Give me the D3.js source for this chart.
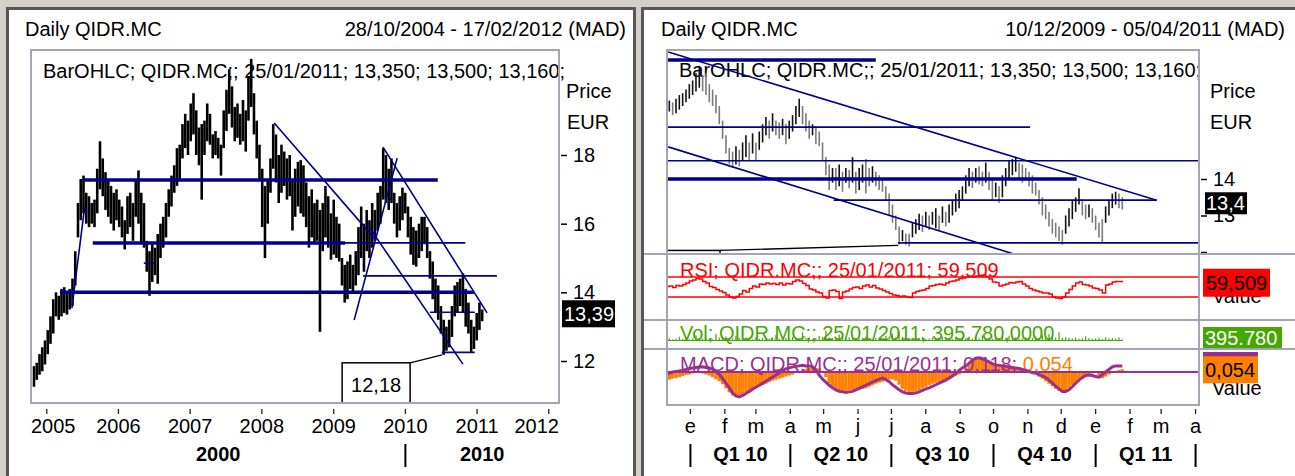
<!DOCTYPE html>
<html>
<head>
<meta charset="utf-8">
<script src="https://cdn.jsdelivr.net/npm/d3@7/dist/d3.min.js"></script>
<style>
  body { margin: 0; background: #d4d0c8; }
  text { font-family: "Liberation Sans", Arial, sans-serif; font-size: 20px; }
</style>
</head>
<body>
<svg id="chart" width="1295" height="476"></svg>
<script>
// ---------------- data ----------------
const leftStart = "2004-10-28", leftStepDays = 14;
const leftHigh = [11.85,11.95,12.2,12.4,12.6,12.9,13.3,13.8,14.0,13.9,
  14.1,14.15,14.0,14.1,14.4,15.2,16.6,17.3,17.4,16.9,
  16.8,16.6,16.7,17.6,18.4,17.9,17.5,17.3,17.1,16.9,
  17.0,16.7,16.5,16.1,16.8,16.9,16.6,17.3,17.55,16.9,
  16.6,15.5,15.2,15.4,15.3,15.7,16.0,16.2,16.6,17.0,
  17.4,17.7,18.2,18.3,18.9,19.2,19.0,19.5,19.8,19.3,
  18.8,18.9,19.0,19.5,19.2,18.6,18.7,18.5,18.3,19.3,
  19.9,20.5,20.0,19.4,19.5,19.2,19.6,19.3,20.3,20.8,
  19.8,19.0,18.3,17.6,17.1,17.3,17.9,18.9,18.6,18.0,
  18.3,18.1,17.9,18.0,17.3,17.6,17.8,17.85,17.7,17.2,
  16.8,17.0,16.6,16.7,16.4,16.6,17.1,16.8,16.3,16.7,
  16.2,16.0,15.0,14.8,14.9,15.1,14.8,15.2,15.9,16.5,
  16.0,16.4,16.1,16.6,16.4,16.9,17.1,18.2,18.0,17.6,
  17.9,16.9,16.6,16.8,17.05,16.9,16.5,16.2,15.9,15.8,
  16.0,16.2,16.2,15.9,15.2,14.9,14.4,14.2,13.6,13.2,
  13.0,13.2,13.6,14.2,14.3,14.4,14.55,14.1,13.7,13.2,
  13.0,13.4,13.7,13.5];
const leftLow = [11.25,11.45,11.6,11.7,11.9,12.2,12.5,12.8,13.3,13.2,
  13.3,13.4,13.35,13.5,13.6,14.2,15.6,16.1,16.3,16.0,
  15.9,16.0,15.9,16.3,17.0,16.8,16.4,16.2,16.0,15.8,
  16.1,15.9,15.6,15.25,15.7,15.9,15.5,16.2,16.0,15.4,
  15.3,14.6,13.9,14.3,14.5,14.25,15.0,15.3,15.6,16.2,
  16.5,16.9,17.1,17.3,17.9,18.2,18.0,18.4,18.6,18.0,
  17.7,16.7,18.0,18.4,18.3,17.9,18.0,17.9,17.4,18.2,
  18.7,19.2,18.8,18.4,18.5,18.3,18.4,18.1,19.0,19.4,
  18.6,17.9,17.3,15.9,15.0,16.0,16.9,17.6,17.2,16.6,
  16.9,17.1,16.7,16.8,15.8,16.2,16.5,16.3,16.2,15.9,
  15.3,15.6,15.4,15.5,12.85,15.2,15.6,15.3,14.95,15.1,
  15.0,14.9,14.2,13.7,13.8,14.1,13.98,14.2,14.5,15.0,
  14.6,15.2,15.0,15.3,15.5,15.8,16.0,16.7,16.6,16.4,
  16.6,16.0,15.6,15.8,16.1,16.3,15.6,15.1,14.8,14.75,
  15.0,15.2,15.4,15.0,14.4,13.8,13.4,13.2,12.8,12.18,
  12.3,12.4,12.7,13.3,13.4,13.6,13.4,13.0,12.8,12.25,
  12.35,12.6,12.9,13.16];

const rightStart = "2009-12-10", rightStepDays = 3;
const rightHigh = [16.2,16.15,16.1,16.2,16.3,16.35,16.45,16.6,16.7,16.9,
  17.1,16.85,16.9,16.6,16.45,16.3,16.0,15.6,15.2,14.85,
  14.75,14.9,14.8,15.0,15.2,15.0,15.25,15.0,15.3,15.5,
  15.7,15.6,15.8,15.6,15.55,15.65,15.5,15.6,15.75,16.0,
  16.2,16.0,15.8,15.6,15.5,15.45,15.3,15.0,14.6,14.4,
  14.3,14.3,14.4,14.2,14.3,14.25,14.6,14.2,14.3,14.4,
  14.55,14.3,14.35,14.2,14.1,14.0,13.8,13.6,13.3,13.0,
  12.7,12.6,12.5,12.5,12.8,12.9,13.05,13.0,13.1,13.0,
  13.1,13.2,13.0,13.25,13.1,13.3,13.4,13.6,13.7,13.8,
  14.1,14.3,14.2,14.3,14.35,14.2,14.45,14.2,14.0,13.9,
  13.8,14.1,14.3,14.5,14.55,14.6,14.45,14.4,14.3,14.2,
  14.1,13.9,13.7,13.5,13.3,13.1,12.9,12.8,12.7,12.6,
  13.0,13.2,13.4,13.5,13.75,13.45,13.3,13.3,13.2,13.0,
  12.8,12.9,13.25,13.4,13.6,13.65,13.6,13.5];
const rightLow = [15.8,15.85,15.75,15.8,15.9,16.0,16.1,16.2,16.3,16.4,
  16.5,16.4,16.3,16.1,16.0,15.8,15.5,15.1,14.7,14.4,
  14.3,14.4,14.35,14.5,14.6,14.5,14.7,14.5,14.8,15.0,
  15.2,15.1,15.3,15.2,15.1,15.2,14.95,15.1,15.3,15.5,
  15.7,15.5,15.3,15.1,15.2,14.95,14.9,14.5,14.1,13.7,
  13.9,13.7,13.8,13.65,13.9,13.75,13.9,13.6,13.7,13.9,
  13.6,13.8,13.9,13.8,13.7,13.65,13.4,13.0,12.8,12.6,
  12.2,12.3,12.2,12.15,12.4,12.5,12.6,12.55,12.7,12.6,
  12.75,12.65,12.6,12.8,12.7,12.8,13.0,13.1,13.2,13.4,
  13.6,13.8,13.75,13.9,13.85,13.8,13.9,13.7,13.4,13.5,
  13.35,13.5,13.8,14.0,14.1,14.2,14.0,13.9,13.95,13.8,
  13.6,13.55,13.3,13.0,12.9,12.7,12.5,12.4,12.3,12.2,
  12.5,12.7,12.9,13.1,13.3,13.0,12.9,12.95,12.8,12.6,
  12.4,12.27,12.8,13.0,13.2,13.3,13.2,13.16];

const rsiValues = [51,52,49,53,52,55,58,62,64,67,
  66,61,58,51,49,45,42,39,34,30,
  28,31,36,43,40,47,52,50,56,55,
  58,56,57,55,58,54,57,56,61,64,
  62,57,53,46,44,40,38,31,28,43,
  44,41,27,40,42,46,49,50,47,52,
  54,50,53,48,46,43,40,37,34,33,
  31,32,30,29,38,41,43,44,47,52,
  53,55,56,54,58,61,62,64,67,68,
  70,71,70,72,73,74,71,66,60,59,
  52,54,56,59,58,60,61,56,52,47,
  44,42,40,38,38,36,30,28,27,30,
  38,45,52,58,60,55,54,52,48,47,
  44,38,54,56,60,61,61,59.509];
const rsiLevels = [30, 70];

const volValues = [420,610,380,520,900,450,700,380,560,1200,
  640,480,820,510,390,1500,720,600,980,450,
  530,1100,680,420,760,590,350,820,460,640,
  380,510,720,1300,480,560,690,410,860,530,
  470,1900,620,740,390,580,1050,880,2200,760,
  640,520,1400,690,450,830,560,720,480,610,
  900,540,430,680,760,510,1100,980,1600,740,
  2100,860,690,540,720,480,610,850,430,560,
  690,470,580,820,510,640,390,720,560,880,
  610,940,480,700,530,1200,620,760,450,840,
  590,680,520,1100,610,740,470,560,830,640,
  720,980,560,1300,690,1500,860,740,1900,620,
  820,690,540,710,460,580,1000,620,480,560,
  700,450,830,560,640,520,780,396];

const macdValues = [-0.04,-0.02,0.00,0.01,0.02,0.03,0.05,0.07,0.08,0.09,
  0.10,0.10,0.09,0.08,0.05,0.01,-0.05,-0.13,-0.22,-0.31,
  -0.41,-0.47,-0.49,-0.46,-0.42,-0.38,-0.34,-0.30,-0.26,-0.22,
  -0.18,-0.14,-0.10,-0.06,-0.02,0.03,0.06,0.08,0.10,0.11,
  0.12,0.13,0.12,0.12,0.10,0.04,-0.06,-0.14,-0.20,-0.26,
  -0.31,-0.35,-0.38,-0.39,-0.40,-0.39,-0.38,-0.35,-0.32,-0.29,
  -0.26,-0.23,-0.20,-0.17,-0.14,-0.12,-0.15,-0.19,-0.25,-0.30,
  -0.35,-0.39,-0.41,-0.42,-0.42,-0.41,-0.39,-0.36,-0.33,-0.31,
  -0.28,-0.25,-0.22,-0.19,-0.16,-0.12,-0.08,-0.03,0.03,0.08,
  0.12,0.17,0.23,0.27,0.28,0.26,0.23,0.20,0.16,0.14,
  0.13,0.12,0.11,0.10,0.09,0.08,0.07,0.05,0.03,0.01,
  -0.01,-0.02,-0.05,-0.08,-0.11,-0.16,-0.22,-0.28,-0.33,-0.38,
  -0.38,-0.35,-0.29,-0.22,-0.16,-0.11,-0.07,-0.06,-0.07,-0.09,
  -0.10,-0.05,0.00,0.05,0.10,0.12,0.12,0.118];
const signalValues = [-0.17,-0.15,-0.13,-0.12,-0.10,-0.08,-0.06,-0.05,-0.03,-0.02,
  -0.02,-0.03,-0.05,-0.07,-0.10,-0.14,-0.18,-0.24,-0.32,-0.40,
  -0.46,-0.49,-0.48,-0.44,-0.40,-0.37,-0.34,-0.31,-0.28,-0.26,
  -0.23,-0.20,-0.17,-0.15,-0.13,-0.11,-0.09,-0.07,-0.05,-0.02,
  0.01,0.04,0.06,0.08,0.08,0.08,0.07,0.02,-0.10,-0.22,
  -0.29,-0.34,-0.38,-0.39,-0.37,-0.36,-0.35,-0.35,-0.35,-0.33,
  -0.32,-0.29,-0.26,-0.23,-0.21,-0.19,-0.16,-0.15,-0.14,-0.17,
  -0.25,-0.33,-0.37,-0.39,-0.39,-0.38,-0.36,-0.32,-0.29,-0.26,
  -0.23,-0.21,-0.19,-0.17,-0.14,-0.12,-0.10,-0.07,-0.05,-0.02,
  0.06,0.14,0.24,0.28,0.29,0.26,0.22,0.19,0.16,0.14,
  0.13,0.11,0.10,0.09,0.07,0.06,0.05,0.04,0.02,0.00,
  -0.03,-0.05,-0.09,-0.13,-0.18,-0.23,-0.28,-0.33,-0.37,-0.39,
  -0.36,-0.32,-0.26,-0.20,-0.15,-0.10,-0.07,-0.05,-0.03,-0.02,
  -0.06,-0.12,-0.09,-0.05,-0.02,0.02,0.04,0.054];

// drawn lines, in (date, price)
const leftThickLines = [
  {from: "2005-07-03", p1: 17.27, to: "2010-06-15", p2: 17.27},
  {from: "2005-08-23", p1: 15.44, to: "2009-02-28", p2: 15.44},
  {from: "2005-03-09", p1: 14.0, to: "2010-12-15", p2: 14.0}
];
const leftThinLines = [
  {from: "2009-01-01", p1: 15.44, to: "2010-11-02", p2: 15.44},
  {from: "2009-05-30", p1: 14.48, to: "2011-04-12", p2: 14.48},
  {from: "2010-05-06", p1: 13.42, to: "2010-12-20", p2: 13.42},
  {from: "2010-07-05", p1: 12.25, to: "2010-12-20", p2: 12.25},
  {from: "2006-05-10", p1: 14.85, to: "2006-07-01", p2: 14.85},
  {from: "2005-05-09", p1: 13.54, to: "2005-07-13", p2: 16.49},
  {from: "2008-03-04", p1: 18.93, to: "2009-08-04", p2: 15.52},
  {from: "2009-07-04", p1: 15.87, to: "2010-10-21", p2: 11.91},
  {from: "2009-04-15", p1: 13.19, to: "2009-11-20", p2: 17.91},
  {from: "2009-09-09", p1: 18.23, to: "2011-02-21", p2: 13.40}
];
const rightThickLines = [
  {from: "2009-06-01", p1: 17.26, to: "2010-06-17", p2: 17.26},
  {from: "2009-06-01", p1: 14.0, to: "2010-12-15", p2: 14.0}
];
const rightThinLines = [
  {from: "2009-06-01", p1: 15.42, to: "2010-11-03", p2: 15.42},
  {from: "2009-06-01", p1: 14.5, to: "2011-06-01", p2: 14.5},
  {from: "2010-05-10", p1: 13.42, to: "2011-02-25", p2: 13.42},
  {from: "2010-07-07", p1: 12.25, to: "2011-06-01", p2: 12.25},
  {from: "2009-12-12", p1: 17.48, to: "2011-02-25", p2: 13.42},
  {from: "2009-12-12", p1: 14.88, to: "2010-10-22", p2: 11.92}
];
const lowMark = {date: "2010-07-07", price: 12.18, label: "12,18"};
const lastPrice = 13.39;

const yearTicks = [2005, 2006, 2007, 2008, 2009, 2010, 2011, 2012];
const decadeLabels = ["2000", "2010"];
const leftPriceTicks = [12, 14, 16, 18];
const rightPriceTicks = [12, 13, 14];
const monthLetters = ["e","f","m","a","m","j","j","a","s","o","n","d","e","f","m","a"];
const quarterLabels = ["Q1 10", "Q2 10", "Q3 10", "Q4 10", "Q1 11"];

// ---------------- setup ----------------
const parse = d3.timeParse("%Y-%m-%d");
const svg = d3.select("#chart");
const blue = "#00008c", frameCol = "#a4a4b6";

const xL = d3.scaleTime().domain([parse("2004-10-28"), parse("2012-02-17")]).range([34, 558]);
const yL = d3.scaleLinear().domain([12, 18]).range([361, 155]);
const xR = d3.scaleTime().domain([parse("2009-12-10"), parse("2011-04-05")]).range([666, 1200]);
const yR = d3.scaleLinear().domain([12, 14]).range([252, 179]);
const yRsi = d3.scaleLinear().domain([30, 70]).range([297, 277]);
const yVol = d3.scaleLinear().domain([0, 3000]).range([341, 327]);
const yMacd = d3.scaleLinear().domain([-0.5, 0]).range([397.5, 372]);

const leftBars = leftHigh.map((h, i) => ({date: d3.timeDay.offset(parse(leftStart), i * leftStepDays), hi: h, lo: leftLow[i]}));
const rightBars = rightHigh.map((h, i) => ({date: d3.timeDay.offset(parse(rightStart), i * rightStepDays), hi: h, lo: rightLow[i],
  rsi: rsiValues[i], vol: volValues[i], macd: macdValues[i], sig: signalValues[i]}));

const defs = svg.append("defs");
const clip = (id, x, y, w, h) => defs.append("clipPath").attr("id", id).append("rect").attr("x", x).attr("y", y).attr("width", w).attr("height", h);
clip("cL", 32, 51, 526, 351);
clip("cP", 668, 51, 530, 202);
clip("cPlab", 1199, 50, 96, 204);
clip("cRsi", 668, 255, 530, 64);
clip("cVol", 668, 321, 530, 27);
clip("cMacd", 668, 350, 530, 54);

// background and panel frames
svg.append("rect").attr("width", 1295).attr("height", 476).attr("fill", "#d4d0c8");
svg.append("rect").attr("x", 7.5).attr("y", 8.5).attr("width", 627).attr("height", 480)
  .attr("fill", "#fff").attr("stroke", "#575757").attr("stroke-width", 3);
svg.append("rect").attr("x", 642.5).attr("y", 8.5).attr("width", 680).attr("height", 480)
  .attr("fill", "#fff").attr("stroke", "#575757").attr("stroke-width", 3);

function trend(g, data, x, y, width) {
  g.selectAll(null).data(data).join("line")
    .attr("x1", d => x(parse(d.from))).attr("y1", d => y(d.p1))
    .attr("x2", d => x(parse(d.to))).attr("y2", d => y(d.p2))
    .attr("stroke", blue).attr("stroke-width", width);
}

// ================= LEFT CHART =================
const L = svg.append("g");
L.append("text").attr("x", 25).attr("y", 36).text("Daily QIDR.MC");
L.append("text").attr("x", 626).attr("y", 36).attr("text-anchor", "end").text("28/10/2004 - 17/02/2012 (MAD)");
L.append("text").attr("x", 43).attr("y", 78).text("BarOHLC; QIDR.MC;; 25/01/2011; 13,350; 13,500; 13,160;");
L.append("text").attr("x", 566).attr("y", 98).text("Price");
L.append("text").attr("x", 567).attr("y", 129).text("EUR");

const Lp = L.append("g").attr("clip-path", "url(#cL)");
Lp.selectAll(null).data(leftBars).join("line")
  .attr("x1", d => xL(d.date)).attr("x2", d => xL(d.date))
  .attr("y1", d => yL(d.hi)).attr("y2", d => yL(d.lo))
  .attr("stroke", "#000").attr("stroke-width", 2.6);
trend(Lp, leftThickLines, xL, yL, 3.5);
trend(Lp, leftThinLines, xL, yL, 1.6);

// low annotation
const ax = xL(parse(lowMark.date)), ay = yL(lowMark.price);
Lp.append("line").attr("x1", ax - 32).attr("y1", ay + 8).attr("x2", ax).attr("y2", ay).attr("stroke", "#000").attr("stroke-width", 1.3);
Lp.append("rect").attr("x", ax - 100).attr("y", ay + 8).attr("width", 68).attr("height", 50)
  .attr("fill", "#fff").attr("stroke", "#000").attr("stroke-width", 1.5);
Lp.append("text").attr("x", ax - 66).attr("y", ay + 37).attr("text-anchor", "middle").text(lowMark.label);

L.append("rect").attr("x", 31).attr("y", 50).attr("width", 528).attr("height", 353)
  .attr("fill", "none").attr("stroke", frameCol).attr("stroke-width", 2);

const axL = L.append("g").attr("transform", "translate(561,0)")
  .call(d3.axisRight(yL).tickValues(leftPriceTicks).tickSize(6).tickPadding(6).tickFormat(d3.format("d")));
axL.select(".domain").remove();
axL.attr("font-size", 20).attr("font-family", "Liberation Sans, Arial, sans-serif");
axL.selectAll("line").attr("stroke", "#000").attr("stroke-width", 1.5);
axL.selectAll("text").attr("fill", "#000");

// last price label
const lpY = yL(lastPrice);
L.append("rect").attr("x", 562).attr("y", lpY - 13).attr("width", 53).attr("height", 27).attr("fill", "#000");
L.append("text").attr("x", 564).attr("y", lpY + 8).attr("fill", "#fff").text("13,39");

// year axis
L.selectAll(null).data(yearTicks).join("line")
  .attr("x1", d => xL(new Date(d, 0, 1))).attr("x2", d => xL(new Date(d, 0, 1)))
  .attr("y1", 409).attr("y2", 414).attr("stroke", "#222").attr("stroke-width", 1.3);
L.selectAll(null).data(yearTicks).join("text")
  .attr("text-anchor", "middle").attr("y", 433).text(d => d)
  .each(function(d) {
    const w = this.getComputedTextLength();
    const cx = Math.max(31 + w / 2, Math.min(559 - w / 2, xL(new Date(d, 0, 1))));
    d3.select(this).attr("x", cx);
  });
const decEdges = [31, xL(new Date(2010, 0, 1)), 559];
L.selectAll(null).data(decadeLabels).join("text")
  .attr("x", (d, i) => (decEdges[i] + decEdges[i + 1]) / 2).attr("y", 461)
  .attr("text-anchor", "middle").attr("font-weight", "bold").text(d => d);
L.append("line").attr("x1", decEdges[1]).attr("x2", decEdges[1]).attr("y1", 444).attr("y2", 467)
  .attr("stroke", "#000").attr("stroke-width", 2);

// ================= RIGHT CHART =================
const R = svg.append("g");
R.append("text").attr("x", 661).attr("y", 36).text("Daily QIDR.MC");
R.append("text").attr("x", 1285).attr("y", 36).attr("text-anchor", "end").text("10/12/2009 - 05/04/2011 (MAD)");
R.append("text").attr("x", 1210).attr("y", 98).text("Price");
R.append("text").attr("x", 1210).attr("y", 129).text("EUR");

// price pane
const Rp = R.append("g").attr("clip-path", "url(#cP)");
Rp.append("text").attr("x", 679).attr("y", 77).text("BarOHLC; QIDR.MC;; 25/01/2011; 13,350; 13,500; 13,160;");
Rp.selectAll(null).data(rightBars).join("line")
  .attr("x1", d => xR(d.date)).attr("x2", d => xR(d.date))
  .attr("y1", d => yR(d.hi)).attr("y2", d => yR(d.lo))
  .attr("stroke", (d, i) => i > 0 && (d.hi + d.lo) < (rightBars[i - 1].hi + rightBars[i - 1].lo) ? "#7a7a7a" : "#111")
  .attr("stroke-width", 1.6);
trend(Rp, rightThickLines, xR, yR, 3.5);
trend(Rp, rightThinLines, xR, yR, 1.6);
const bx = xR(parse(lowMark.date)), by = yR(lowMark.price);
Rp.append("line").attr("x1", bx - 178).attr("y1", by + 5).attr("x2", bx).attr("y2", by).attr("stroke", "#000").attr("stroke-width", 1.3);
Rp.append("rect").attr("x", bx - 246).attr("y", by + 5).attr("width", 68).attr("height", 50)
  .attr("fill", "#fff").attr("stroke", "#000").attr("stroke-width", 1.5);

const axR = R.append("g").attr("clip-path", "url(#cPlab)").append("g").attr("transform", "translate(1201,0)")
  .call(d3.axisRight(yR).tickValues(rightPriceTicks).tickSize(6).tickPadding(6).tickFormat(d3.format("d")));
axR.select(".domain").remove();
axR.attr("font-size", 20).attr("font-family", "Liberation Sans, Arial, sans-serif");
axR.selectAll("line").attr("stroke", "#000").attr("stroke-width", 1.5);
// labels that do not fit above the pane bottom are not shown
axR.selectAll("text").attr("fill", "#000").attr("display", d => yR(d) + 8 > 254 ? "none" : null);
const rpY = yR(lastPrice) + 2;
R.append("rect").attr("x", 1205).attr("y", rpY - 11).attr("width", 42).attr("height", 22).attr("fill", "#000");
R.append("text").attr("x", 1206).attr("y", rpY + 7).attr("fill", "#fff").text("13,4");

// RSI pane
const Rr = R.append("g").attr("clip-path", "url(#cRsi)");
Rr.selectAll(null).data(rsiLevels).join("line")
  .attr("x1", 668).attr("x2", 1199).attr("y1", d => yRsi(d)).attr("y2", d => yRsi(d))
  .attr("stroke", "#ff0000").attr("stroke-width", 1.5);
Rr.append("text").attr("x", 680).attr("y", 277).attr("fill", "#ff0000").text("RSI; QIDR.MC;; 25/01/2011; 59,509");
Rr.append("path").datum(rightBars)
  .attr("d", d3.line().x(d => xR(d.date)).y(d => yRsi(d.rsi)).curve(d3.curveStepAfter))
  .attr("fill", "none").attr("stroke", "#ff0000").attr("stroke-width", 1.5);
R.append("text").attr("x", 1212).attr("y", 303).text("Value");
const rsiLast = yRsi(rsiValues[rsiValues.length - 1]);
R.append("rect").attr("x", 1203).attr("y", rsiLast - 13.5).attr("width", 67).attr("height", 28).attr("fill", "#ff0000");
R.append("text").attr("x", 1206).attr("y", rsiLast + 8).attr("fill", "#000").text("59,509");

// Volume pane
const Rv = R.append("g").attr("clip-path", "url(#cVol)");
Rv.append("text").attr("x", 680).attr("y", 340).attr("fill", "#44a800").text("Vol; QIDR.MC;; 25/01/2011; 395.780,0000");
Rv.append("line").attr("x1", 668).attr("x2", xR(rightBars[rightBars.length - 1].date)).attr("y1", 340.5).attr("y2", 340.5)
  .attr("stroke", "#44a800").attr("stroke-width", 1.2);
Rv.selectAll(null).data(rightBars).join("line")
  .attr("x1", d => xR(d.date)).attr("x2", d => xR(d.date))
  .attr("y1", yVol(0)).attr("y2", d => yVol(d.vol))
  .attr("stroke", "#44a800").attr("stroke-width", 1.2);
R.append("rect").attr("x", 1203).attr("y", 327).attr("width", 79).attr("height", 22).attr("fill", "#44a800");
R.append("text").attr("x", 1205).attr("y", 345).attr("fill", "#fff").text("395.780");

// MACD pane
const Rm = R.append("g").attr("clip-path", "url(#cMacd)");
Rm.selectAll(null).data(rightBars).join("rect")
  .attr("x", d => xR(d.date) - 1.7).attr("width", 3.4)
  .attr("y", d => Math.min(yMacd(0), yMacd(d.sig))).attr("height", d => Math.abs(yMacd(d.sig) - yMacd(0)))
  .attr("fill", "#ff8000");
Rm.append("line").attr("x1", 668).attr("x2", 1199).attr("y1", yMacd(0)).attr("y2", yMacd(0))
  .attr("stroke", "#9b2f8f").attr("stroke-width", 2);
const mt = Rm.append("text").attr("x", 680).attr("y", 371).attr("fill", "#9b2f8f");
mt.append("tspan").text("MACD; QIDR.MC;; 25/01/2011; 0,118; ");
mt.append("tspan").attr("fill", "#ff8000").text("0,054");
Rm.append("path").datum(rightBars)
  .attr("d", d3.line().x(d => xR(d.date)).y(d => yMacd(d.macd)))
  .attr("fill", "none").attr("stroke", "#9b2f8f").attr("stroke-width", 3);
R.append("text").attr("x", 1212).attr("y", 395).text("Value");
const macdLast = yMacd(macdValues[macdValues.length - 1]), sigLast = yMacd(signalValues[signalValues.length - 1]);
R.append("rect").attr("x", 1203).attr("y", macdLast - 14).attr("width", 55).attr("height", 27).attr("fill", "#9b2f8f");
R.append("rect").attr("x", 1203).attr("y", sigLast - 13).attr("width", 55).attr("height", 27).attr("fill", "#ff8000");
R.append("text").attr("x", 1205).attr("y", sigLast + 8).attr("fill", "#000").text("0,054");

// pane frames
[254, 320, 349].forEach(yy => R.append("line").attr("x1", 644).attr("x2", 1295).attr("y1", yy).attr("y2", yy)
  .attr("stroke", frameCol).attr("stroke-width", 2));
R.append("rect").attr("x", 667).attr("y", 50).attr("width", 532).attr("height", 355)
  .attr("fill", "none").attr("stroke", frameCol).attr("stroke-width", 2);

// month axis
const monthTicks = d3.timeMonth.range(parse("2010-01-01"), parse("2011-04-02"));
R.selectAll(null).data(monthTicks).join("line")
  .attr("x1", d => xR(d)).attr("x2", d => xR(d)).attr("y1", 409).attr("y2", 414)
  .attr("stroke", "#222").attr("stroke-width", 1.3);
R.selectAll(null).data(monthTicks).join("text")
  .attr("x", d => xR(d)).attr("y", 433).attr("text-anchor", "middle").text((d, i) => monthLetters[i]);
const qEdges = d3.timeMonth.every(3).range(parse("2010-01-01"), parse("2011-04-02")).map(xR);
R.selectAll(null).data(qEdges).join("line")
  .attr("x1", d => d).attr("x2", d => d).attr("y1", 444).attr("y2", 467)
  .attr("stroke", "#000").attr("stroke-width", 2);
R.selectAll(null).data(quarterLabels).join("text")
  .attr("x", (d, i) => (qEdges[i] + qEdges[i + 1]) / 2).attr("y", 461)
  .attr("text-anchor", "middle").attr("font-weight", "bold").text(d => d);
</script>
</body>
</html>
